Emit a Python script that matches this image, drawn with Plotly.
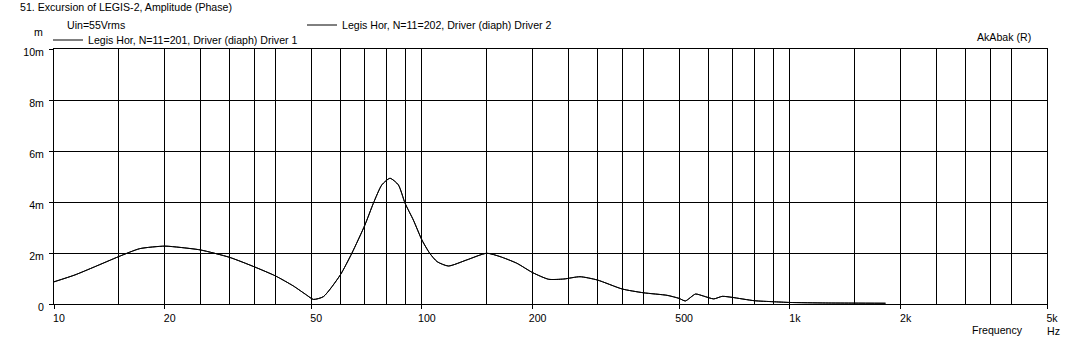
import plotly.graph_objects as go

# Frequency (Hz) and excursion (mm)
freq = [10, 11.4, 12.9, 15, 17.1, 20, 22, 25, 30, 35, 40, 44.7, 48.6, 50.7, 54,
        60, 64.5, 70, 73.8, 77.8, 81.9, 86.3, 90, 94.8, 100, 105, 110, 118, 132.5,
        150, 163, 181, 200, 221, 243, 269, 300, 350, 400, 464, 500, 520, 554, 583,
        621, 655, 697, 800, 900, 1000, 1250, 1500, 1820]
driver1 = [0.87, 1.14, 1.46, 1.86, 2.17, 2.27, 2.22, 2.12, 1.83, 1.46, 1.10, 0.71,
           0.35, 0.18, 0.29, 1.14, 1.99, 3.10, 3.95, 4.67, 4.93, 4.67, 3.95, 3.29,
           2.51, 1.99, 1.66, 1.49, 1.73, 1.99, 1.86, 1.60, 1.23, 0.97, 0.98, 1.07,
           0.94, 0.59, 0.44, 0.34, 0.22, 0.12, 0.39, 0.31, 0.20, 0.30, 0.26, 0.13,
           0.09, 0.06, 0.04, 0.035, 0.03]
driver2 = list(driver1)

x_tickvals = [10, 20, 50, 100, 200, 500, 1000, 2000, 5000]
x_ticktext = ["10", "20", "50", "100", "200", "500", "1k", "2k", "5k"]
x_gridvals = [m * d for d in (10, 100, 1000) for m in (1, 1.5, 2, 2.5, 3, 3.5, 4, 5, 6, 7, 8, 9)] + [5000]
y_tickvals = [0, 2, 4, 6, 8, 10]
y_ticktext = ["0", "2m", "4m", "6m", "8m", "10m"]

FONT = "Liberation Sans"
FS = 10.6
W, H = 1073, 341
L, R, T, B = 54, 26, 49, 37
PW, PH = W - L - R, H - T - B


def px(xp):
    return (xp - L) / PW


def py(yp):
    return (H - B - yp) / PH


fig = go.Figure()
fig.add_trace(go.Scatter(x=freq, y=driver1, mode="lines", name="Legis Hor, N=11=201, Driver (diaph) Driver 1",
                         line=dict(color="black", width=1, shape="spline", smoothing=0.6), legend="legend"))
fig.add_trace(go.Scatter(x=freq, y=driver2, mode="lines", name="Legis Hor, N=11=202, Driver (diaph) Driver 2",
                         line=dict(color="black", width=1, shape="spline", smoothing=0.6), legend="legend2"))

legend_common = dict(font=dict(family=FONT, size=FS, color="black"), bgcolor="rgba(0,0,0,0)",
                     borderwidth=0, itemwidth=30, xanchor="left", yanchor="middle", tracegroupgap=0)

fig.update_layout(
    width=W, height=H,
    margin=dict(l=L, r=R, t=T, b=B, pad=0, autoexpand=False),
    paper_bgcolor="white", plot_bgcolor="white",
    font=dict(family=FONT, size=FS, color="black"),
    title=dict(text="51. Excursion of LEGIS-2, Amplitude (Phase)", x=20 / W, xanchor="left", xref="container",
               y=1 - 7 / H, yanchor="middle", yref="container",
               font=dict(family=FONT, size=FS, color="black")),
    showlegend=True,
    legend=dict(x=px(48), y=py(40), **legend_common),
    legend2=dict(x=px(302), y=py(25), **legend_common),
    xaxis=dict(type="log", range=[1, 3.69897], tickmode="array", tickvals=x_tickvals, ticktext=x_ticktext,
               showgrid=True, gridcolor="black", gridwidth=1,
               ticks="outside", ticklen=4, tickcolor="black", ticklabelshift=5, ticklabelstandoff=0,
               showline=True, linecolor="black", linewidth=1, mirror=True, zeroline=False,
               minor=dict(tickmode="array", tickvals=x_gridvals, showgrid=True, gridcolor="black",
                          gridwidth=1, ticks="")),
    yaxis=dict(range=[0, 10], tickmode="array", tickvals=y_tickvals, ticktext=y_ticktext,
               showgrid=True, gridcolor="black", gridwidth=1,
               ticks="outside", ticklen=4, tickcolor="black", ticklabelshift=3, ticklabelstandoff=3,
               showline=True, linecolor="black", linewidth=1, mirror=True, zeroline=False),
)

ann = [
    ("Uin=55Vrms", 65, 25, "left"),
    ("m", 45, 32, "right"),
    ("AkAbak (R)", 975, 37, "left"),
    ("Frequency", 970, 330, "left"),
    ("Hz", 1045, 331, "left"),
]
for text, x, y, anchor in ann:
    fig.add_annotation(text=text, xref="paper", yref="paper", x=px(x), y=py(y), xanchor=anchor,
                       yanchor="middle", showarrow=False, font=dict(family=FONT, size=FS, color="black"))

fig.write_html("out.html", config={"displayModeBar": False},
               post_script="document.body.style.margin='0';document.body.style.overflow='hidden';")
